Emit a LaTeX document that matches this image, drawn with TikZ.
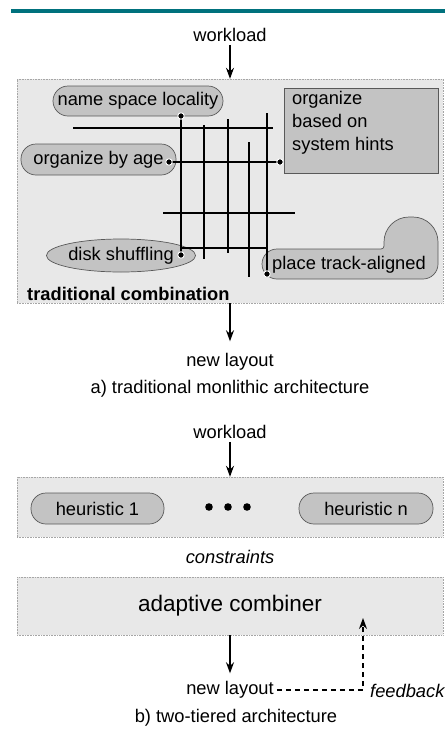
\documentclass[tikz,border=0pt]{standalone}
\usepackage{fontspec}
\setmainfont{Liberation Sans}
\usetikzlibrary{arrows.meta,shapes.geometric}
\definecolor{barteal}{HTML}{00717D}
\begin{document}
\begin{tikzpicture}[x=1pt,y=-1pt,>={Stealth[length=11pt,width=8pt]},
    panel/.style={draw=gray!70,dash pattern=on 0.8pt off 0.8pt,fill=gray!18,minimum width=426pt},
    lbl/.style={inner sep=3pt,font=\fontsize{18.3}{23}\selectfont},
    blob/.style={draw=black!65,fill=gray!47,line width=0.7pt},
    pill/.style={blob,rounded corners=15pt,minimum height=30pt},
    wire/.style={line width=1.3pt},
    flow/.style={line width=1.1pt,->},
    knot/.style={circle,fill=black,draw=white,line width=0.9pt,inner sep=0pt,minimum size=6.5pt}]
    \useasboundingbox (0,0) rectangle (445,742);
    \fill[barteal] (11,9) rectangle (445,12.5);
    % a) traditional
    \node[lbl] (wl1) at (230,35) {workload};
    \node[panel,minimum height=224pt] (trad) at (230,191) {};
    \draw[flow] (wl1) -- (trad);
    \node[pill,lbl,minimum width=170pt] (nsl) at (138,101) {name space locality};
    \node[pill,lbl,minimum width=155pt,minimum height=31pt] (age) at (98.5,159.5) {organize by age};
    \node[blob,lbl,ellipse,inner sep=0pt,minimum width=144pt,minimum height=33pt] (disk) at (121,255.5) {disk shuffling};
    \node[blob,minimum width=154pt,minimum height=85pt] (hints) at (361,130.5) {};
    \node[lbl,anchor=west,align=left] (hintstext) at (289,123) {organize\\based on\\system hints};
    \draw[blob] (277,279) arc (90:270:15) -- (381,249) arc (90:0:3) -- (384,242) arc (180:270:25)
        -- (413,217) arc (270:360:25) -- (438,264) arc (0:90:15) -- cycle;
    \node[lbl] (track) at (349,265) {place track-aligned};
    \node[lbl,anchor=west,font=\fontsize{18.3}{23}\selectfont\bfseries] (tradlbl) at (24,294) {traditional combination};
    \coordinate (nsldot) at (181,116);
    \coordinate (agedot) at (169,162);
    \coordinate (hintdot) at (280,162);
    \coordinate (diskdot) at (181,255);
    \coordinate (trackdot) at (267,274);
    \draw[wire] (73,128) -- (273,128);
    \draw[wire] (agedot) -- (hintdot);
    \draw[wire] (163,213) -- (295,213);
    \draw[wire] (181,248) -- (267,248);
    \draw[wire] (nsldot) -- (diskdot);
    \draw[wire] (204,125) -- (204,259);
    \draw[wire] (228,119) -- (228,253);
    \draw[wire] (249,142) -- (249,277);
    \draw[wire] (267,113) -- (trackdot);
    \foreach \d in {nsldot,agedot,hintdot,diskdot,trackdot}
        \node[knot] at (\d) {};
    \node[lbl] (nl1) at (230,362) {new layout};
    \draw[flow,shorten >=9pt] (trad) -- (nl1);
    \node[lbl] (capa) at (230,389) {a) traditional monlithic architecture};
    % b) two-tiered
    \node[lbl] (wl2) at (230,432) {workload};
    \node[panel,minimum height=60pt] (heur) at (230,507) {};
    \draw[flow] (wl2) -- (heur);
    \node[pill,lbl,minimum width=133pt,minimum height=31pt] (h1) at (97.5,508.5) {heuristic 1};
    \node[pill,lbl,minimum width=134pt,minimum height=31pt] (hn) at (366,508.5) {heuristic n};
    \foreach \x in {209,228,247}
        \fill (\x,507) circle (3.8pt);
    \node[lbl,font=\fontsize{18.3}{23}\selectfont\itshape] (cons) at (230,557) {constraints};
    \node[panel,minimum height=58pt,font=\fontsize{22.5}{27}\selectfont] (comb) at (230,606) {adaptive combiner};
    \node[lbl] (nl2) at (230,690) {new layout};
    \draw[flow,shorten >=5pt] (comb) -- (nl2);
    \coordinate (fbtip) at (363,618);
    \draw[flow,dash pattern=on 5pt off 4pt] (nl2.east) -| (fbtip);
    \node[lbl,anchor=west,font=\fontsize{18.3}{23}\selectfont\itshape] (fb) at (367,691) {feedback};
    \node[lbl] (capb) at (236,718) {b) two-tiered architecture};
\end{tikzpicture}
\end{document}
